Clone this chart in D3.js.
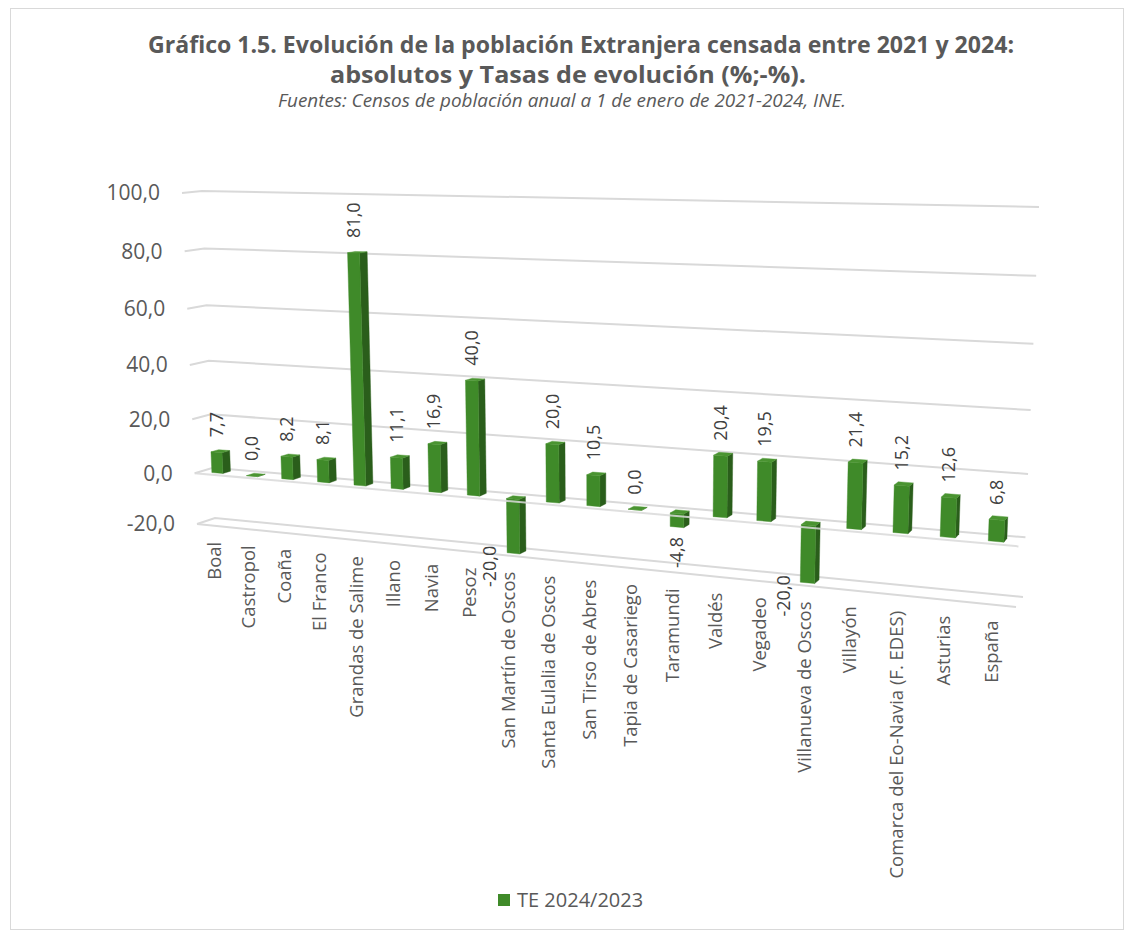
<!DOCTYPE html>
<html>
<head>
<meta charset="utf-8">
<script src="https://cdn.jsdelivr.net/npm/d3@7"></script>
<style>
  body { margin: 0; background: #fff; }
  text { font-family: "Open Sans", sans-serif; }
</style>
</head>
<body>
<svg id="chart" width="1134" height="939"></svg>
<script>
// ---- data ----
const categories = [
  "Boal", "Castropol", "Coaña", "El Franco", "Grandas de Salime", "Illano",
  "Navia", "Pesoz", "San Martín de Oscos", "Santa Eulalia de Oscos",
  "San Tirso de Abres", "Tapia de Casariego", "Taramundi", "Valdés",
  "Vegadeo", "Villanueva de Oscos", "Villayón",
  "Comarca del Eo-Navia (F. EDES)", "Asturias", "España"
];
const te2024 = [7.7, 0.0, 8.2, 8.1, 81.0, 11.1, 16.9, 40.0, -20.0, 20.0,
                10.5, 0.0, -4.8, 20.4, 19.5, -20.0, 21.4, 15.2, 12.6, 6.8];
const yTicks = [-20, 0, 20, 40, 60, 80, 100];
const seriesName = "TE 2024/2023";
const titleLines = [
  "Gráfico 1.5. Evolución de la población Extranjera censada entre 2021 y 2024:",
  "absolutos y Tasas de evolución (%;-%)."
];
const sourceNote = "Fuentes: Censos de población anual a 1 de enero de 2021-2024, INE.";

// ---- styling ----
const frontCol = "#3f8a29", sideCol = "#2a5e1b", topCol = "#4a9431";
const gridCol = "#d9d9d9", textCol = "#595959", labelCol = "#404040";

const svg = d3.select("#chart");

// number format with decimal comma
const esLocale = d3.formatLocale({decimal: ",", thousands: ".", grouping: [3], currency: ["", " €"], minus: "-"});
const fmt = esLocale.format(".1f");

// outer frame
svg.append("rect")
  .attr("x", 10.5).attr("y", 8.5).attr("width", 1113).attr("height", 921)
  .attr("fill", "#fff").attr("stroke", "#d9d9d9").attr("stroke-width", 1);

// ---- perspective projection of the 3-D plot box ----
// maps the unit square (u along categories, t along values) onto a quad
function homography(p00, p10, p11, p01) {
  const [x0, y0] = p00, [x1, y1] = p10, [x2, y2] = p11, [x3, y3] = p01;
  const dx1 = x1 - x2, dx2 = x3 - x2, dx3 = x0 - x1 + x2 - x3;
  const dy1 = y1 - y2, dy2 = y3 - y2, dy3 = y0 - y1 + y2 - y3;
  const den = dx1 * dy2 - dx2 * dy1;
  const g = (dx3 * dy2 - dx2 * dy3) / den, h = (dx1 * dy3 - dx3 * dy1) / den;
  const a = x1 - x0 + g * x1, b = x3 - x0 + h * x3, c = x0;
  const d = y1 - y0 + g * y1, e = y3 - y0 + h * y3, f = y0;
  return (u, t) => {
    const w = g * u + h * t + 1;
    return [(a * u + b * t + c) / w, (d * u + e * t + f) / w];
  };
}
const backPlane  = homography([215, 518], [1023, 597], [1039, 207], [202, 191]);
const frontPlane = homography([197, 524], [1016, 607], [1032, 210], [182, 193]);

// value -> vertical position inside the box (slight foreshortening toward the floor)
const valueT = d3.scaleLinear().domain(yTicks).range([0, 0.158, 0.324, 0.489, 0.658, 0.829, 1]);
// category -> position along the box
const catU = d3.scaleBand().domain(categories).range([0, 1]).paddingInner(0.68).paddingOuter(0.34);

function P(u, v, z) {
  const t = valueT(v);
  const f = frontPlane(u, t), b = backPlane(u, t);
  return [f[0] + (b[0] - f[0]) * z, f[1] + (b[1] - f[1]) * z];
}
const line = d3.line();
const poly = pts => line(pts) + "Z";

// ---- gridlines on side and back walls, plus the floor plane ----
const grid = svg.append("g").attr("fill", "none").attr("stroke", gridCol).attr("stroke-width", 2);
yTicks.forEach(v => {
  grid.append("path").attr("d", line([P(0, v, 0), P(0, v, 1), P(1, v, 1)]));
});
grid.append("path").attr("d", line([P(0, yTicks[0], 0), P(1, yTicks[0], 0)]));

// ---- y axis tick labels ----
svg.append("g").selectAll("text").data(yTicks).join("text")
  .attr("x", d => P(0, d, 0)[0] - 22)
  .attr("y", d => P(0, d, 0)[1])
  .attr("dy", "0.35em")
  .attr("text-anchor", "end")
  .attr("font-size", 21)
  .attr("fill", textCol)
  .text(d => fmt(d));

// ---- 3-D columns ----
const ZF = 0.3, ZB = 0.72;
const bars = svg.append("g");
te2024.forEach((v, i) => {
  const u0 = catU(categories[i]), u1 = u0 + catU.bandwidth();
  const hi = Math.max(v, 0), lo = Math.min(v, 0);
  const g = bars.append("g");
  g.append("path").attr("d", poly([P(u1, lo, ZF), P(u1, lo, ZB), P(u1, hi, ZB), P(u1, hi, ZF)]))
    .attr("fill", sideCol).attr("stroke", sideCol).attr("stroke-width", 0.4);
  g.append("path").attr("d", poly([P(u0, lo, ZF), P(u1, lo, ZF), P(u1, hi, ZF), P(u0, hi, ZF)]))
    .attr("fill", frontCol).attr("stroke", frontCol).attr("stroke-width", 0.4);
  g.append("path").attr("d", poly([P(u0, hi, ZF), P(u1, hi, ZF), P(u1, hi, ZB), P(u0, hi, ZB)]))
    .attr("fill", topCol).attr("stroke", topCol).attr("stroke-width", 0.4);
});

// front edge of the zero plane, seen across the columns
svg.append("path")
  .attr("d", line([P(0, 0, 0), P(1, 0, 0)]))
  .attr("fill", "none").attr("stroke", gridCol).attr("stroke-width", 2).attr("opacity", 0.85);

// ---- data labels ----
const labels = svg.append("g").attr("font-size", 18).attr("fill", labelCol);
te2024.forEach((v, i) => {
  const u0 = catU(categories[i]), uc = u0 + catU.bandwidth() / 2;
  let x, y, anchor;
  if (v >= 0) {
    [x, y] = P(uc, v, ZF); y -= 15; anchor = "start";
  } else if (v > yTicks[0]) {
    [x, y] = P(uc, v, ZF); y += 10; anchor = "end";
  } else {
    const p = P(u0, v, ZF); x = p[0] - 17; y = p[1] - 7; anchor = "end";
  }
  labels.append("text")
    .attr("transform", `translate(${x},${y}) rotate(-90)`)
    .attr("dy", "0.35em")
    .attr("text-anchor", anchor)
    .text(fmt(v));
});

// ---- category labels ----
svg.append("g").selectAll("text").data(categories).join("text")
  .attr("transform", d => {
    const p = P(catU(d) + catU.bandwidth() / 2, yTicks[0], 0);
    return `translate(${p[0]},${p[1] + 16}) rotate(-90)`;
  })
  .attr("dy", "0.35em")
  .attr("text-anchor", "end")
  .attr("font-size", 18.5)
  .attr("fill", textCol)
  .text(d => d);

// ---- title and source ----
const title = svg.append("g").attr("fill", textCol).attr("text-anchor", "middle");
title.append("text").attr("x", 581).attr("y", 53)
  .attr("font-family", "Lato, sans-serif").attr("font-weight", 700).attr("font-size", 24)
  .attr("textLength", 866).attr("lengthAdjust", "spacingAndGlyphs")
  .text(titleLines[0]);
title.append("text").attr("x", 568).attr("y", 83)
  .attr("font-family", "Lato, sans-serif").attr("font-weight", 700).attr("font-size", 24)
  .attr("textLength", 476).attr("lengthAdjust", "spacingAndGlyphs")
  .text(titleLines[1]);
title.append("text").attr("x", 562).attr("y", 107)
  .attr("font-family", "Lato, sans-serif").attr("font-style", "italic").attr("font-size", 18)
  .attr("textLength", 568).attr("lengthAdjust", "spacingAndGlyphs")
  .text(sourceNote);

// ---- legend ----
const legend = svg.append("g").attr("transform", "translate(498,900)");
legend.append("rect").attr("x", 0).attr("y", -6).attr("width", 12).attr("height", 12).attr("fill", frontCol);
legend.append("text").attr("x", 19).attr("dy", "0.35em").attr("font-size", 20).attr("fill", textCol).text(seriesName);
</script>
</body>
</html>
